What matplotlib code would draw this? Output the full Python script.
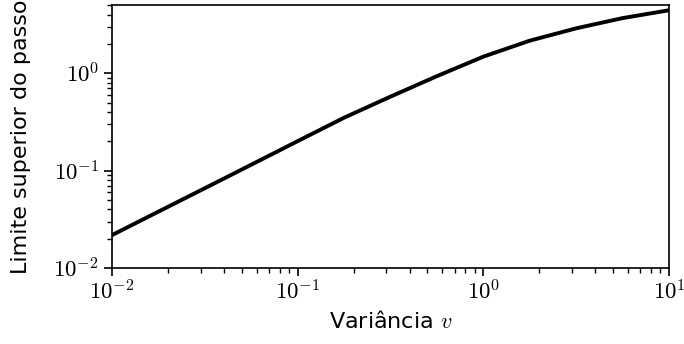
import numpy as np
import matplotlib
matplotlib.use("Agg")
import matplotlib.pyplot as plt
from matplotlib.ticker import FuncFormatter

plt.rcParams["mathtext.fontset"] = "cm"

# upper step bound versus variance
variance = [0.01, 0.0178, 0.0316, 0.0562, 0.1, 0.178, 0.316, 0.562,
            1.0, 1.78, 3.16, 5.62, 10.0]
step_bound = [0.0218, 0.038, 0.066, 0.115, 0.201, 0.35, 0.575, 0.933,
              1.48, 2.16, 2.89, 3.68, 4.43]

fig, ax = plt.subplots(figsize=(6.84, 3.44), dpi=100)

ax.plot(variance, step_bound, color="black", linewidth=2.8,
        solid_joinstyle="round")

ax.set_xscale("log")
ax.set_yscale("log")
ax.set_xlim(1e-2, 1e1)
ax.set_ylim(1e-2, 5.0)

decade = FuncFormatter(lambda v, pos: r"$10^{%d}$" % round(np.log10(v)))
ax.xaxis.set_major_formatter(decade)
ax.yaxis.set_major_formatter(decade)

ax.set_xlabel("Variância $v$", fontsize=16, labelpad=4)
ax.set_ylabel("Limite superior do passo", fontsize=16, labelpad=16)
ax.tick_params(axis="both", which="major", labelsize=16.5, direction="out", length=6, width=1.2)
ax.tick_params(axis="x", which="major", pad=3)
ax.tick_params(axis="both", which="minor", length=3.5, width=1.0)
for spine in ax.spines.values():
    spine.set_linewidth(1.2)

fig.subplots_adjust(left=0.164, right=0.978, top=0.985, bottom=0.221)
fig.savefig("out.png", dpi=100)
